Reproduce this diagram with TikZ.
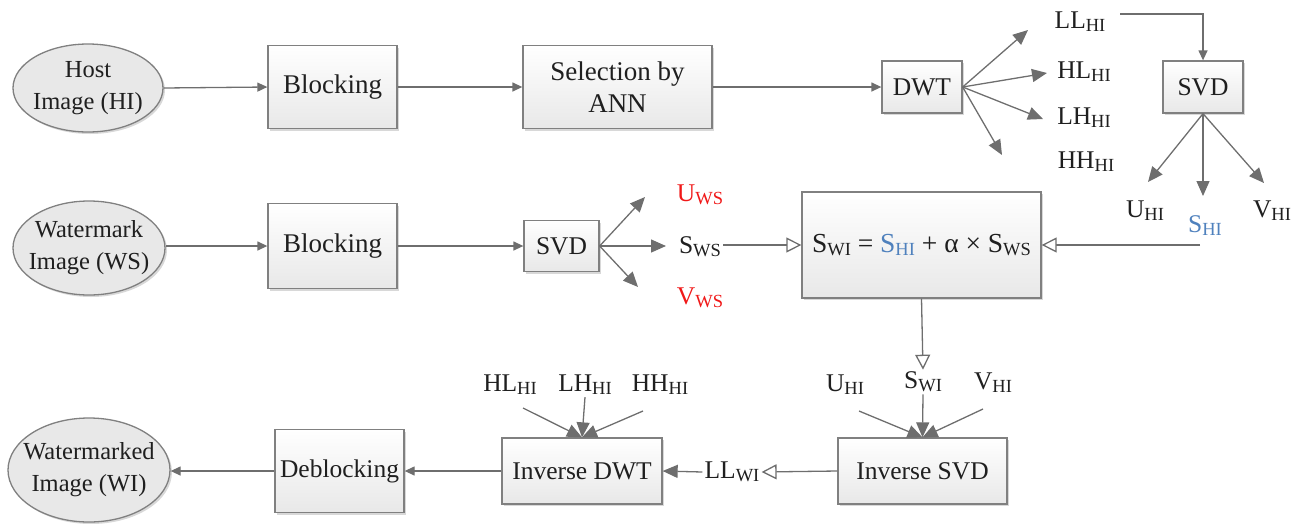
\documentclass[tikz,border=0pt]{standalone}
\usepackage{fontspec}
\setmainfont{Liberation Serif}
\usetikzlibrary{arrows.meta,shadows,shapes.geometric}
\definecolor{ln}{HTML}{6E6E6E}
\definecolor{bd}{HTML}{808080}
\definecolor{wred}{HTML}{F01818}
\definecolor{wblue}{HTML}{4F81BD}
\newcommand\sbs[1]{\raisebox{-0.12em}{\fontsize{18.5}{18.5}\selectfont #1}}
\begin{document}
\begin{tikzpicture}[x=1pt,y=-1pt,
  font=\fontsize{25.5}{30}\selectfont, text=black!88,
  blk/.style={draw=bd, line width=1.3pt, top color=white, bottom color=black!9,
    drop shadow={shadow xshift=2pt,shadow yshift=-2pt,fill=black!30,opacity=0.5},
    inner sep=0pt, align=center},
  ell/.style={draw=bd, line width=1.3pt, fill=black!9, ellipse, inner sep=0pt,
    drop shadow={shadow xshift=2pt,shadow yshift=-2pt,fill=black!30,opacity=0.5}},
  lab/.style={inner sep=2pt},
  arrS/.style={draw=ln, line width=1.3pt, -{Triangle[length=10pt,width=9pt]}},
  arrB/.style={draw=ln, line width=1.3pt, -{Triangle[length=15pt,width=13pt]}},
  arrO/.style={draw=ln, line width=1.3pt, -{Triangle[open,length=15pt,width=15pt,fill=white]}},
]
\useasboundingbox (0,0) rectangle (1301,523);

% ---------- Row 1 ----------
\node[ell, minimum width=150pt, minimum height=88pt] (host) at (88,88) {};
\node[align=center, font=\fontsize{24.5}{32}\selectfont] at (host) {Host\\Image (HI)};
\node[blk, minimum width=129pt, minimum height=83pt, font=\fontsize{27}{30}\selectfont] (b1) at (332.5,87) {Blocking};
\node[blk, minimum width=189pt, minimum height=83pt, font=\fontsize{27}{32}\selectfont] (sel) at (617.5,87) {Selection by\\ANN};
\node[blk, minimum width=80pt, minimum height=52pt] (dwt) at (922,87) {DWT};
\node[blk, minimum width=80pt, minimum height=52pt] (svd1) at (1203,87) {SVD};

\draw[arrS] (host.east) -- (b1.west);
\draw[arrS] (b1.east) -- (sel.west);
\draw[arrS] (sel.east) -- (dwt.west);

\node[lab] (ll) at (1080,22) {LL\sbs{HI}};
\node[lab] (hl) at (1084,72) {HL\sbs{HI}};
\node[lab] (lh) at (1084,118) {LH\sbs{HI}};
\node[lab] (hh) at (1086,162) {HH\sbs{HI}};
\coordinate (t1) at (1028,30);
\coordinate (t2) at (1047,73);
\coordinate (t3) at (1043,119);
\coordinate (t4) at (1002,155);
\draw[arrB] (dwt.east) -- (t1);
\draw[arrB] (dwt.east) -- (t2);
\draw[arrB] (dwt.east) -- (t3);
\draw[arrB] (dwt.east) -- (t4);

\coordinate (llc) at (1120,14);
\draw[arrS] (llc) -| (svd1.north);

\node[lab] (uhi) at (1145,211) {U\sbs{HI}};
\node[lab, text=wblue] (shi) at (1205,226) {S\sbs{HI}};
\node[lab] (vhi) at (1272,211) {V\sbs{HI}};
\coordinate (u1) at (1148,182);
\coordinate (s1) at (1203,196);
\coordinate (v1) at (1264,183);
\draw[arrB] (svd1.south) -- (u1);
\draw[arrB] (svd1.south) -- (s1);
\draw[arrB] (svd1.south) -- (v1);

% ---------- Row 2 ----------
\node[ell, minimum width=152pt, minimum height=94pt] (wm) at (89,248) {};
\node[align=center, font=\fontsize{24.5}{32}\selectfont] at (wm) {Watermark\\Image (WS)};
\node[blk, minimum width=129pt, minimum height=85pt, font=\fontsize{27}{30}\selectfont] (b2) at (332.5,246) {Blocking};
\node[blk, minimum width=75pt, minimum height=51pt] (svd2) at (561.5,246) {SVD};
\draw[arrS] (wm.east |- b2) -- (b2.west);
\draw[arrS] (b2.east) -- (svd2.west);

\node[lab, text=wred] (uws) at (700,195) {U\sbs{WS}};
\node[lab] (sws) at (700,247) {S\sbs{WS}};
\node[lab, text=wred] (vws) at (700,298) {V\sbs{WS}};
\coordinate (u2) at (645,197);
\coordinate (s2) at (666,246);
\coordinate (v2) at (638,287);
\draw[arrB] (svd2.east) -- (u2);
\draw[arrB] (svd2.east) -- (s2);
\draw[arrB] (svd2.east) -- (v2);

\node[blk, minimum width=239pt, minimum height=106pt, font=\fontsize{27.5}{30}\selectfont] (form) at (921.5,245)
  {S\sbs{WI} = {\color{wblue}S\sbs{HI}} + α × S\sbs{WS}};
\draw[arrO] (sws.east |- form.west) -- (form.west);
\coordinate (shic) at (1200,245);
\draw[arrO] (shic) -- (form.east);

% ---------- Row 3 ----------
\node[lab] (swi) at (923,382) {S\sbs{WI}};
\draw[arrO] (form.south) -- (swi.north);
\node[lab] (u3) at (845,385) {U\sbs{HI}};
\node[lab] (v3) at (993,383) {V\sbs{HI}};
\node[blk, minimum width=169pt, minimum height=66pt] (isvd) at (922.5,471) {Inverse SVD};
\coordinate (u3c) at (859,411);
\coordinate (v3c) at (983,409);
\draw[arrB] (u3c) -- (isvd.north);
\draw[arrB] (swi.south) -- (isvd.north);
\draw[arrB] (v3c) -- (isvd.north);

\node[lab] (llwi) at (732,472) {LL\sbs{WI}};
\draw[arrO] (isvd.west) -- (llwi.east);
\node[blk, minimum width=160pt, minimum height=66pt] (idwt) at (582,471) {Inverse DWT};
\draw[arrB] (llwi.west) -- (idwt.east);

\node[lab] (hl3) at (510,385) {HL\sbs{HI}};
\node[lab] (lh3) at (585,385) {LH\sbs{HI}};
\node[lab] (hh3) at (660,385) {HH\sbs{HI}};
\coordinate (hl3c) at (523,408);
\coordinate (hh3c) at (643,411);
\draw[arrB] (hl3c) -- (idwt.north);
\draw[arrB] (lh3.south) -- (idwt.north);
\draw[arrB] (hh3c) -- (idwt.north);

\node[blk, minimum width=129pt, minimum height=83pt] (deb) at (339.5,471) {Deblocking};
\draw[arrS] (idwt.west) -- (deb.east);
\node[ell, minimum width=162pt, minimum height=104pt] (wmi) at (89,470) {};
\node[align=center, font=\fontsize{24.5}{32}\selectfont] at (wmi) {Watermarked\\Image (WI)};
\draw[arrS] (deb.west) -- (wmi.east |- deb);
\end{tikzpicture}
\end{document}
